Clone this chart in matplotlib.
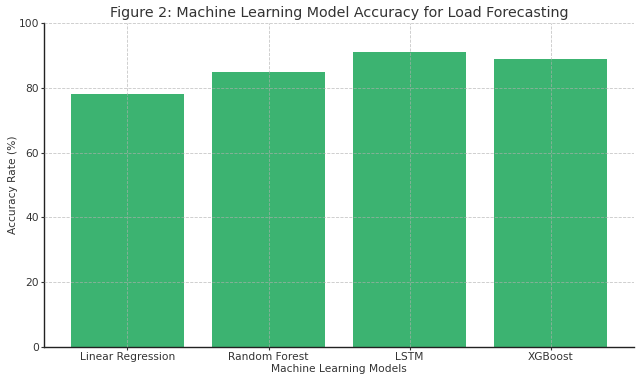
import matplotlib
matplotlib.use("Agg")
import matplotlib.pyplot as plt

# data
models = ["Linear Regression", "Random Forest", "LSTM", "XGBoost"]
accuracy = [78, 85, 91, 89]

plt.rcParams['font.family'] = ['DejaVu Sans']
text_col = '#333333'

fig = plt.figure(figsize=(6.4, 3.82), dpi=100)
ax = fig.add_axes([0.069, 0.0916, 0.9216, 0.8482])

ax.bar(models, accuracy, color='#3CB371', width=0.8)
ax.set_ylim(0, 100)
ax.set_yticks([0, 20, 40, 60, 80, 100])

ax.grid(True, linestyle='--', linewidth=0.6, color='#b0b0b0', alpha=0.7)
ax.set_axisbelow(False)

ax.spines['top'].set_visible(False)
ax.spines['right'].set_visible(False)
for s in ['left', 'bottom']:
    ax.spines[s].set_color('#222222')
    ax.spines[s].set_linewidth(1.0)

ax.tick_params(labelsize=7.7, colors=text_col, length=2.5, pad=1)
ax.set_title("Figure 2: Machine Learning Model Accuracy for Load Forecasting",
             fontsize=10.3, color=text_col, pad=4)
ax.set_xlabel("Machine Learning Models", fontsize=7.7, color=text_col, labelpad=1.5)
ax.set_ylabel("Accuracy Rate (%)", fontsize=7.7, color=text_col, labelpad=0.5)

fig.savefig("out.png", dpi=100)
